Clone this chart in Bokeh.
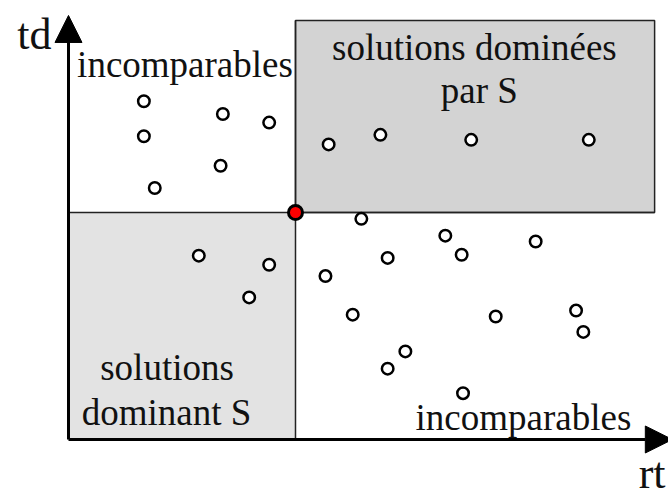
from bokeh.plotting import figure
from bokeh.models import Range1d, Label, Arrow, NormalHead
from bokeh.embed import file_html
from bokeh.resources import INLINE

# ---- data (rt, td) ----
S_rt, S_td = [5.0], [5.0]
rt_max, td_max = 12.91, 9.23

tl_rt = [1.66, 1.66, 3.40, 4.42, 3.35, 1.90]
tl_td = [7.45, 6.68, 7.17, 6.98, 6.03, 5.54]

tr_rt = [5.73, 6.87, 8.87, 11.46]
tr_td = [6.50, 6.71, 6.60, 6.60]

bl_rt = [2.87, 4.42, 3.98]
bl_td = [4.05, 3.85, 3.13]

br_rt = [6.45, 8.30, 8.66, 10.29, 7.03, 5.66, 6.26, 9.41, 11.18, 11.34, 7.42, 7.03, 8.69]
br_td = [4.86, 4.49, 4.07, 4.36, 4.00, 3.60, 2.75, 2.71, 2.84, 2.37, 1.94, 1.56, 1.02]

pts_rt = tl_rt + tr_rt + bl_rt + br_rt
pts_td = tl_td + tr_td + bl_td + br_td

FONT = "Liberation Serif"
TXT = "#111111"

p = figure(width=668, height=498, output_backend="svg", toolbar_location=None,
           x_range=Range1d(-1.4978, 13.2159), y_range=Range1d(-1.2996, 9.6696),
           x_axis_location=None, y_axis_location=None, min_border=0,
           background_fill_color="white", border_fill_color="white")
p.outline_line_color = None
p.grid.visible = False

# shaded regions
p.quad(left=[S_rt[0]], right=[rt_max], bottom=[S_td[0]], top=[td_max],
       fill_color="#d3d3d3", line_color="#222222", line_width=1.5)
p.quad(left=[0], right=[S_rt[0]], bottom=[0], top=[S_td[0]],
       fill_color="#e3e3e3", line_color=None)
# dividing lines through S
p.segment(x0=[S_rt[0], 0], y0=[0, S_td[0]], x1=[S_rt[0], rt_max], y1=[td_max, S_td[0]],
          line_color="#222222", line_width=1.5)

# axes with arrows
p.add_layout(Arrow(x_start=0, y_start=0, x_end=0, y_end=9.34, line_width=3, line_color="black",
                   end=NormalHead(size=27, fill_color="black", line_color="black", line_width=1)))
p.add_layout(Arrow(x_start=0, y_start=0, x_end=13.3, y_end=0, line_width=3, line_color="black",
                   end=NormalHead(size=27, fill_color="black", line_color="black", line_width=1)))

# points
p.scatter(pts_rt, pts_td, size=11.5, fill_color="white", line_color="black", line_width=2.5)
p.scatter(S_rt, S_td, size=14, fill_color="#ff0000", line_color="black", line_width=3)

def lab(x, y, t, size="37px", align="center"):
    p.add_layout(Label(x=x, y=y, text=t, text_font=FONT, text_font_size=size,
                       text_color=TXT, text_align=align, text_baseline="alphabetic"))

lab(2.566, 8.26, "incomparables")
lab(8.94, 8.63, "solutions dominées")
lab(9.05, 7.68, "par S")
lab(2.17, 1.58, "solutions")
lab(2.16, 0.60, "dominant S")
lab(10.02, 0.48, "incomparables")
lab(-0.374, 8.92, "td", size="44px", align="right")
lab(12.56, -0.74, "rt", size="44px", align="left")

open("out.html", "w").write(file_html(p, INLINE))
